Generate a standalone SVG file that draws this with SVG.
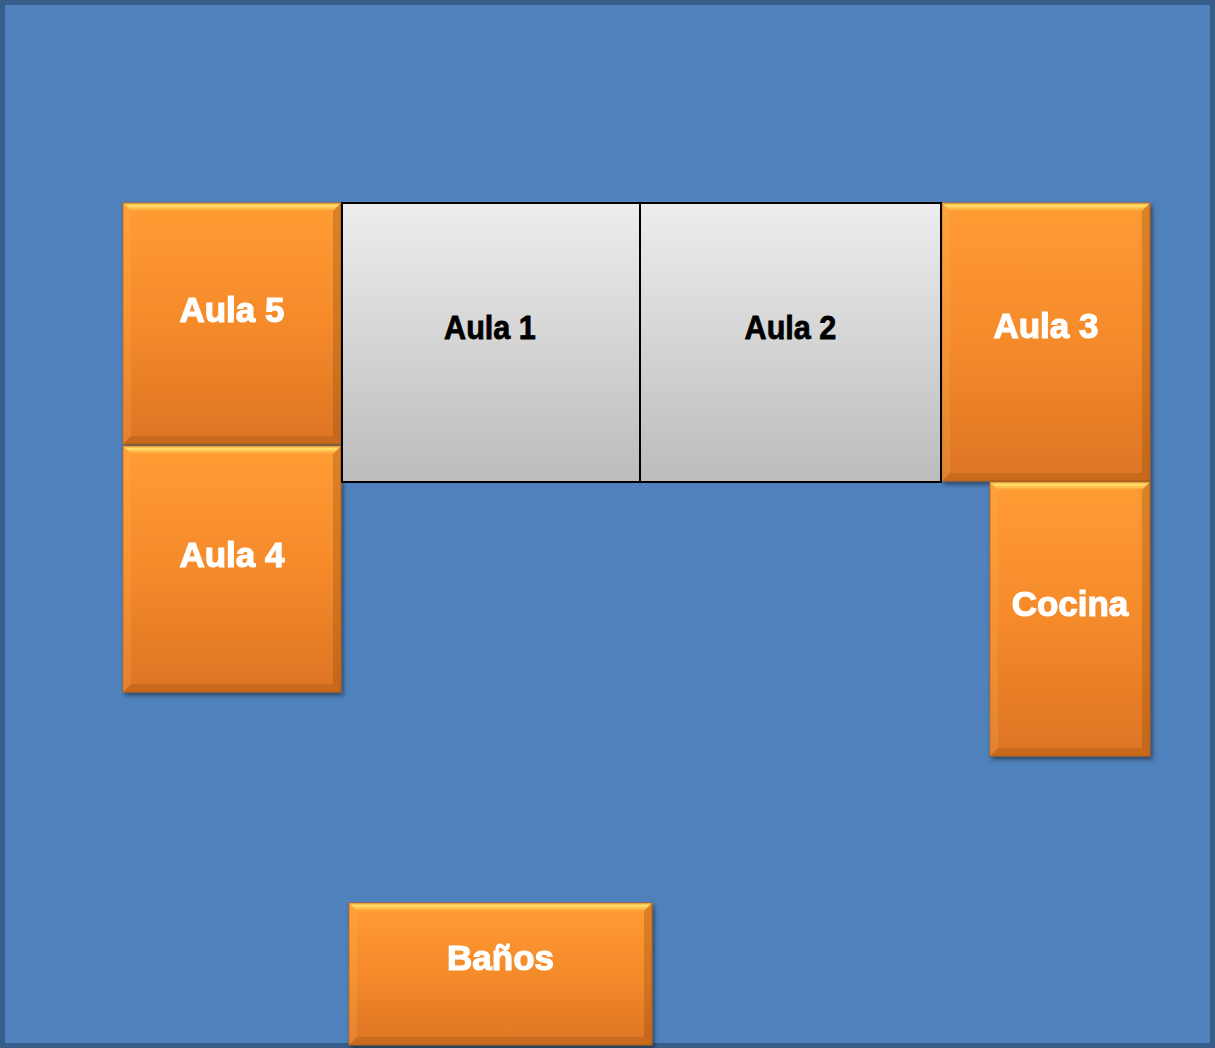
<svg xmlns="http://www.w3.org/2000/svg" width="1215" height="1048" viewBox="0 0 1215 1048">
<defs>
<linearGradient id="org" x1="0" y1="0" x2="0" y2="1">
<stop offset="0" stop-color="#ff9c33"/>
<stop offset="0.5" stop-color="#f58a2b"/>
<stop offset="1" stop-color="#dc7524"/>
</linearGradient>
<linearGradient id="gry" x1="0" y1="0" x2="0" y2="1">
<stop offset="0" stop-color="#ededed"/>
<stop offset="1" stop-color="#bcbcbc"/>
</linearGradient>
<linearGradient id="topbev" x1="0" y1="0" x2="0" y2="1">
<stop offset="0" stop-color="#e8902e"/>
<stop offset="0.3" stop-color="#ffe26c"/>
<stop offset="1" stop-color="#ff9c33"/>
</linearGradient>
<filter id="sh" x="-10%" y="-10%" width="120%" height="120%">
<feDropShadow dx="2" dy="3" stdDeviation="2" flood-color="#000" flood-opacity="0.45"/>
</filter>
</defs>
<style>
.org{fill:url(#org);stroke:#b8621c;stroke-width:1}
.gry{fill:url(#gry);stroke:#000;stroke-width:2}
.tb{fill:url(#topbev)}
.bb{fill:#9c4e12;opacity:0.3}
.lb{fill:#ffb860;opacity:0.2}
.rb{fill:#8a440e;opacity:0.3}
.wt{font-family:"Liberation Sans",Arial,sans-serif;font-weight:bold;font-size:35px;fill:#fff;stroke:#fff;stroke-width:1.2;text-anchor:middle}
.bt{font-family:"Liberation Sans",Arial,sans-serif;font-weight:bold;font-size:34px;fill:#000;stroke:#000;stroke-width:0.8;text-anchor:middle}
</style>
<rect id="bg" x="2.5" y="2.5" width="1210" height="1043" fill="#4f81bd" stroke="#385d8a" stroke-width="5"/>
<g id="aula5" filter="url(#sh)">
<rect class="org" x="123" y="203" width="218" height="241"/>
<polygon class="tb" points="123,203 341,203 333,211 131,211"/>
<polygon class="bb" points="123,444 341,444 333,436 131,436"/>
<polygon class="lb" points="123,203 131,211 131,436 123,444"/>
<polygon class="rb" points="341,203 333,211 333,436 341,444"/>
<text class="wt" x="232" y="322">Aula 5</text>
</g>
<g id="aula4" filter="url(#sh)">
<rect class="org" x="123" y="446" width="218" height="246"/>
<polygon class="tb" points="123,446 341,446 333,454 131,454"/>
<polygon class="bb" points="123,692 341,692 333,684 131,684"/>
<polygon class="lb" points="123,446 131,454 131,684 123,692"/>
<polygon class="rb" points="341,446 333,454 333,684 341,692"/>
<text class="wt" x="232" y="567">Aula 4</text>
</g>
<g id="aula3" filter="url(#sh)">
<rect class="org" x="942" y="203" width="208" height="278"/>
<polygon class="tb" points="942,203 1150,203 1142,211 950,211"/>
<polygon class="bb" points="942,481 1150,481 1142,473 950,473"/>
<polygon class="lb" points="942,203 950,211 950,473 942,481"/>
<polygon class="rb" points="1150,203 1142,211 1142,473 1150,481"/>
<text class="wt" x="1046" y="338">Aula 3</text>
</g>
<g id="cocina" filter="url(#sh)">
<rect class="org" x="990" y="482" width="160" height="274"/>
<polygon class="tb" points="990,482 1150,482 1142,490 998,490"/>
<polygon class="bb" points="990,756 1150,756 1142,748 998,748"/>
<polygon class="lb" points="990,482 998,490 998,748 990,756"/>
<polygon class="rb" points="1150,482 1142,490 1142,748 1150,756"/>
<text class="wt" x="1070" y="616">Cocina</text>
</g>
<g id="banos" filter="url(#sh)">
<rect class="org" x="349" y="903" width="303" height="142"/>
<polygon class="tb" points="349,903 652,903 644,911 357,911"/>
<polygon class="bb" points="349,1045 652,1045 644,1037 357,1037"/>
<polygon class="lb" points="349,903 357,911 357,1037 349,1045"/>
<polygon class="rb" points="652,903 644,911 644,1037 652,1045"/>
<text class="wt" x="500.5" y="970">Baños</text>
</g>
<g id="aula1">
<rect class="gry" x="342" y="203" width="298" height="279"/>
<text class="bt" transform="translate(490,339) scale(0.9,1)">Aula 1</text>
</g>
<g id="aula2">
<rect class="gry" x="640" y="203" width="301" height="279"/>
<text class="bt" transform="translate(790.5,339) scale(0.9,1)">Aula 2</text>
</g>
<g id="connectors"></g>
</svg>
